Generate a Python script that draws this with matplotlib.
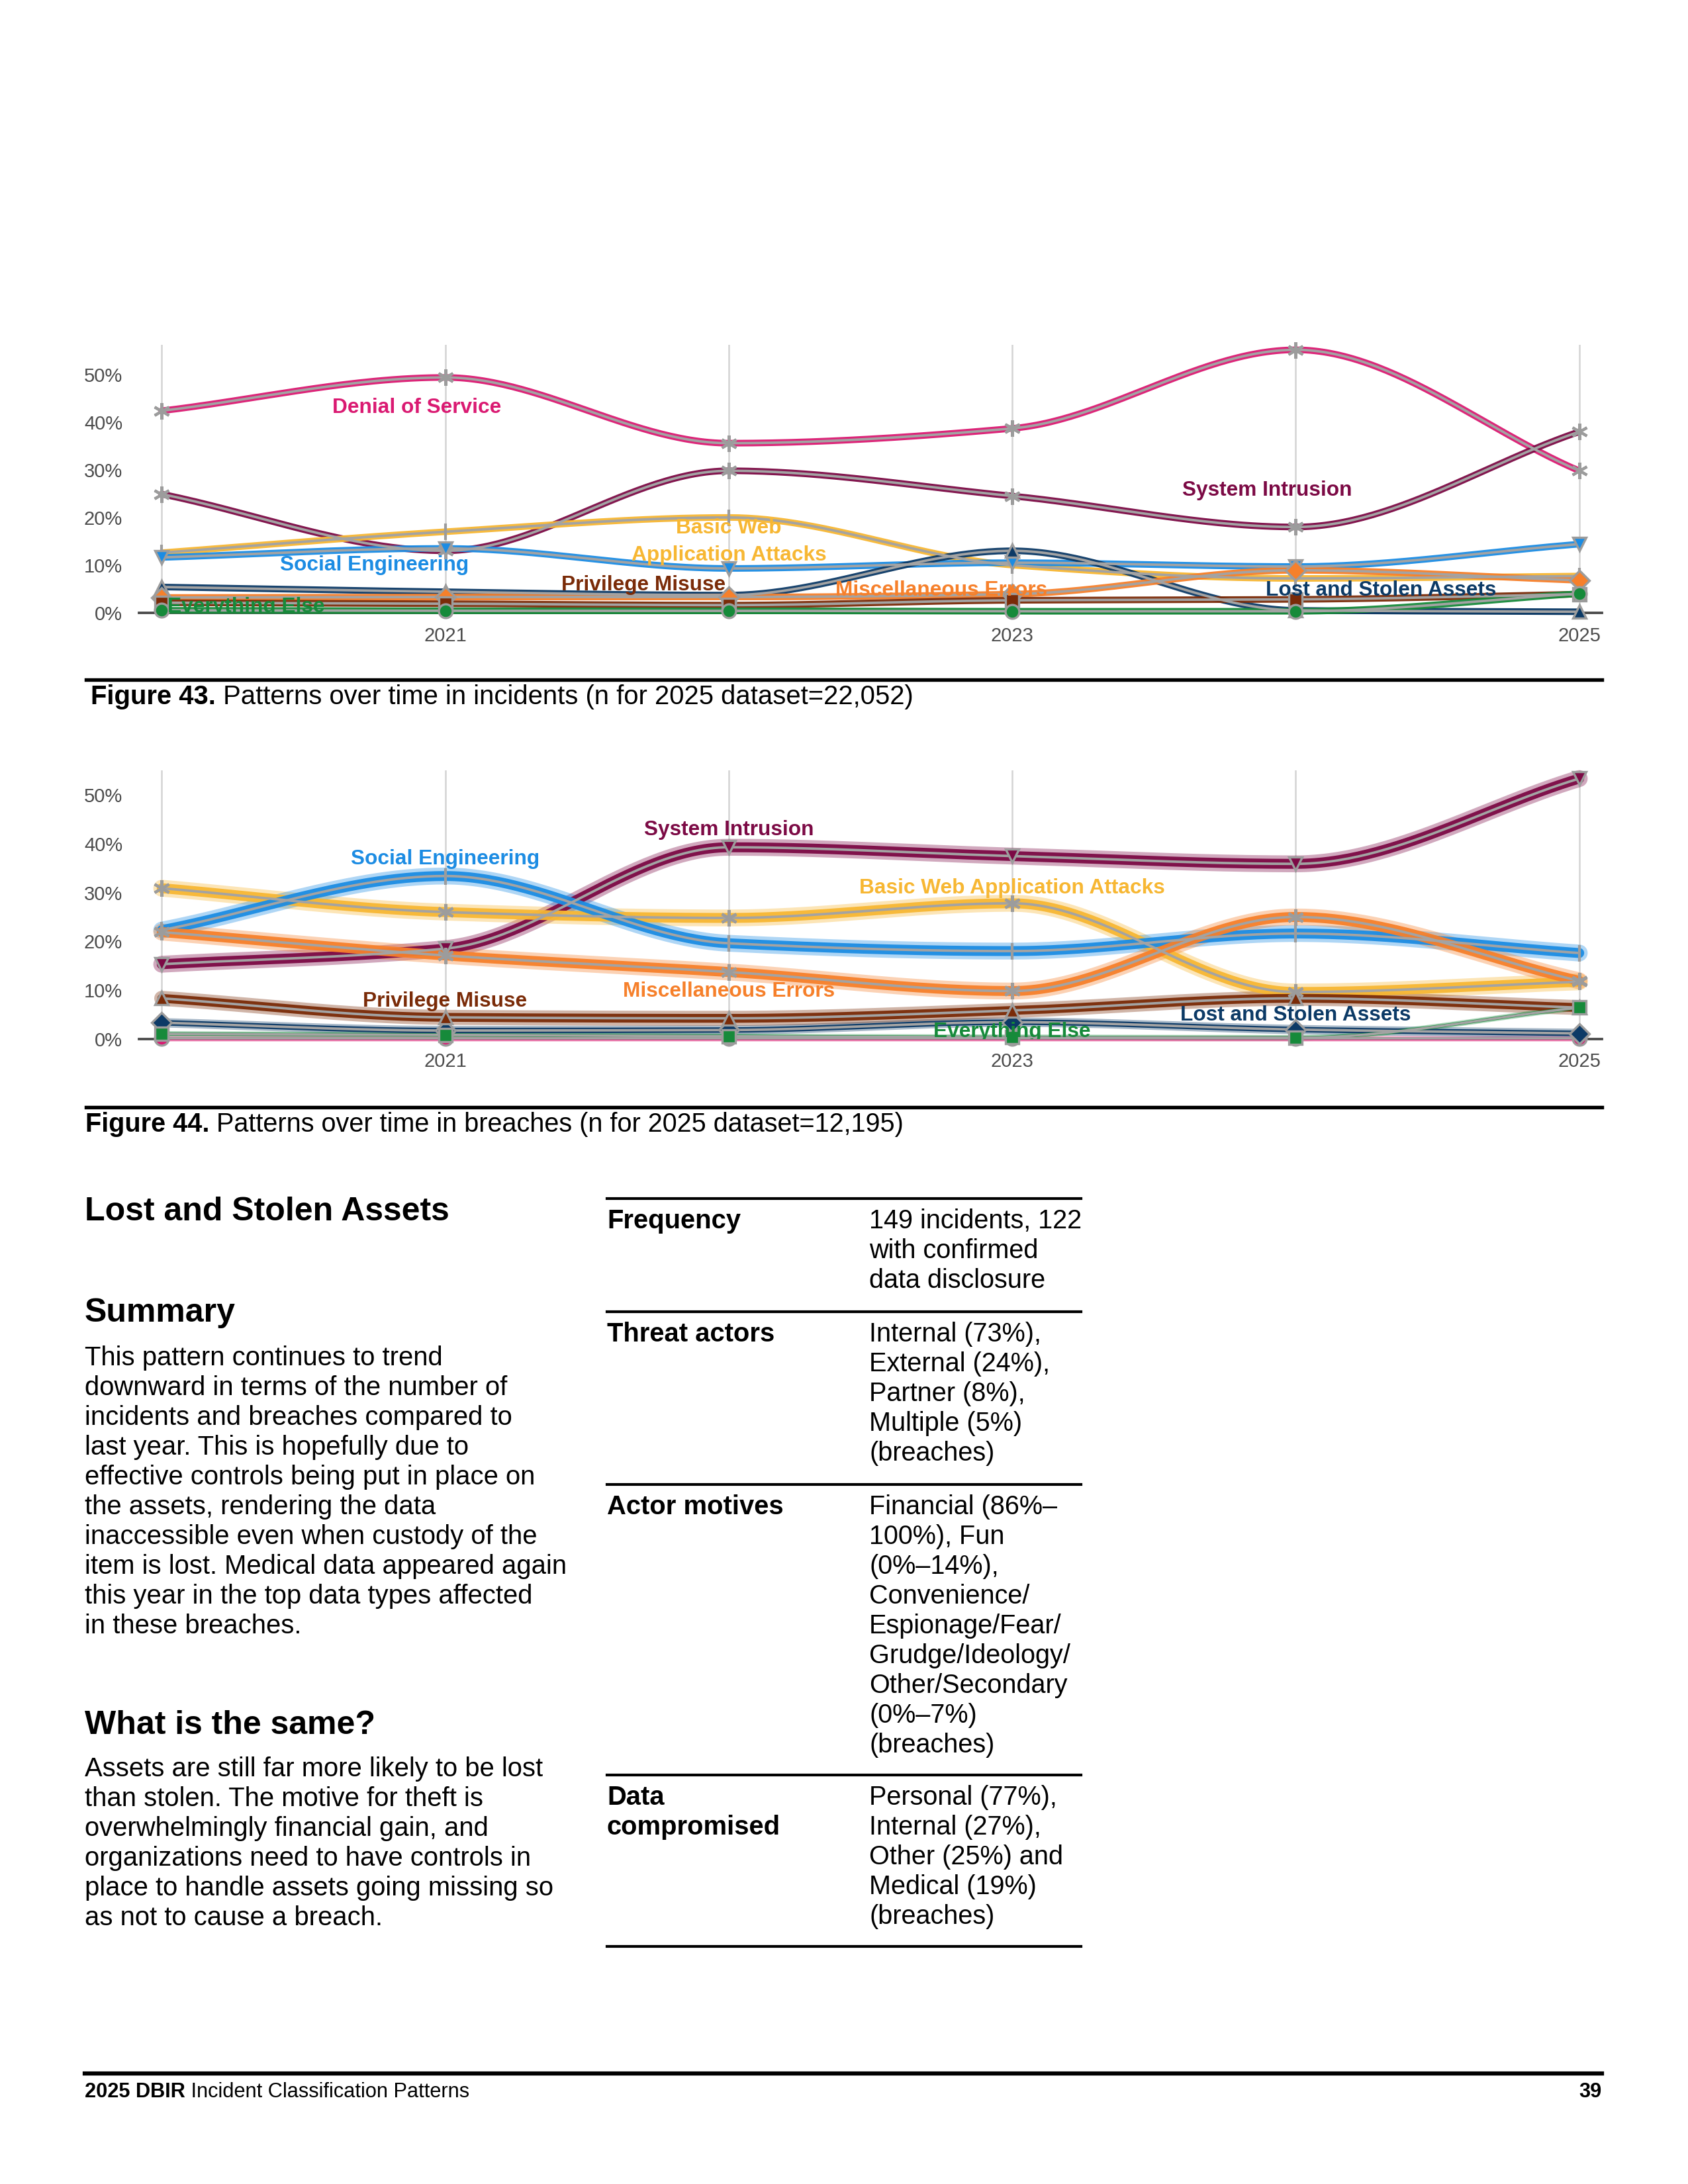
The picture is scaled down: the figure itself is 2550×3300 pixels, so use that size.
import numpy as np
import matplotlib.pyplot as plt

plt.rcParams['font.family'] = ['Liberation Sans', 'DejaVu Sans']

W, H = 2550, 3300

# --------------------------------------------------------------------
# Data (percent of incidents / breaches per pattern)
# --------------------------------------------------------------------
years = [2020, 2021, 2022, 2023, 2024, 2025]
year_ticklabels = ['', '2021', '', '2023', '', '2025']
pct_ticks = [0, 10, 20, 30, 40, 50]
pct_ticklabels = ['0%', '10%', '20%', '30%', '40%', '50%']

patterns = ['Denial of Service', 'System Intrusion', 'Basic Web Application Attacks',
            'Social Engineering', 'Lost and Stolen Assets', 'Miscellaneous Errors',
            'Privilege Misuse', 'Everything Else']

# Figure 43 - incidents
inc_dos = [42.4, 49.4, 35.6, 38.7, 55.2, 29.8]
inc_si = [24.9, 13.0, 29.8, 24.5, 18.0, 38.0]
inc_bwaa = [12.6, 17.0, 20.0, 10.0, 7.2, 7.7]
inc_se = [11.6, 13.5, 9.3, 10.5, 9.7, 14.4]
inc_lsa = [5.4, 4.4, 3.7, 13.0, 0.5, 0.2]
inc_me = [3.2, 3.3, 3.3, 3.9, 8.9, 6.8]
inc_pm = [2.1, 1.9, 1.6, 2.6, 2.8, 3.9]
inc_ee = [0.5, 0.4, 0.4, 0.3, 0.3, 4.0]

# Figure 44 - breaches
br_dos = [0.1, 0.1, 0.1, 0.1, 0.1, 0.1]
br_si = [15.3, 18.5, 39.3, 37.5, 35.9, 53.4]
br_bwaa = [30.9, 26.0, 24.8, 27.8, 9.6, 11.7]
br_se = [22.3, 33.4, 19.6, 18.0, 21.6, 17.6]
br_lsa = [3.3, 1.7, 1.8, 3.4, 1.9, 1.1]
br_me = [21.9, 17.1, 13.7, 9.8, 25.0, 11.9]
br_pm = [8.3, 4.4, 4.2, 5.8, 8.3, 6.4]
br_ee = [1.0, 0.8, 0.5, 0.3, 0.2, 6.4]

colors = {
    'Denial of Service': '#DA1A72',
    'System Intrusion': '#7C0A45',
    'Basic Web Application Attacks': '#F7B733',
    'Social Engineering': '#1C8CE3',
    'Lost and Stolen Assets': '#0C3A66',
    'Miscellaneous Errors': '#F6802B',
    'Privilege Misuse': '#7A2B08',
    'Everything Else': '#168A3A',
}

STAR = (6, 2, 0)
inc_markers = {'Denial of Service': STAR, 'System Intrusion': STAR,
               'Basic Web Application Attacks': '|', 'Social Engineering': 'v',
               'Lost and Stolen Assets': '^', 'Miscellaneous Errors': 'D',
               'Privilege Misuse': 's', 'Everything Else': 'o'}
br_markers = {'Denial of Service': 'o', 'System Intrusion': 'v',
              'Basic Web Application Attacks': STAR, 'Social Engineering': '|',
              'Lost and Stolen Assets': 'D', 'Miscellaneous Errors': STAR,
              'Privilege Misuse': '^', 'Everything Else': 's'}
# band widths in the breach chart (small patterns have narrow bands)
br_band = {'Denial of Service': 1.2, 'System Intrusion': 3.6,
           'Basic Web Application Attacks': 3.6, 'Social Engineering': 3.6,
           'Lost and Stolen Assets': 2.0, 'Miscellaneous Errors': 3.6,
           'Privilege Misuse': 3.2, 'Everything Else': 1.2}
inc_band = {name: 2.4 for name in patterns}

inc_series = dict(zip(patterns, [inc_dos, inc_si, inc_bwaa, inc_se, inc_lsa, inc_me, inc_pm, inc_ee]))
br_series = dict(zip(patterns, [br_dos, br_si, br_bwaa, br_se, br_lsa, br_me, br_pm, br_ee]))

# direct labels: (text, pattern, x year, y pct, ha)
inc_labels = [
    ('Denial of Service', 'Denial of Service', 2020.9, 43.0, 'center'),
    ('System Intrusion', 'System Intrusion', 2023.9, 25.7, 'center'),
    ('Basic Web\nApplication Attacks', 'Basic Web Application Attacks', 2022.0, 14.9, 'center'),
    ('Social Engineering', 'Social Engineering', 2020.75, 10.0, 'center'),
    ('Privilege Misuse', 'Privilege Misuse', 2021.7, 5.8, 'center'),
    ('Miscellaneous Errors', 'Miscellaneous Errors', 2022.75, 4.7, 'center'),
    ('Lost and Stolen Assets', 'Lost and Stolen Assets', 2024.3, 4.7, 'center'),
    ('Everything Else', 'Everything Else', 2020.02, 1.2, 'left'),
]
br_labels = [
    ('System Intrusion', 'System Intrusion', 2022.0, 42.9, 'center'),
    ('Social Engineering', 'Social Engineering', 2021.0, 36.9, 'center'),
    ('Basic Web Application Attacks', 'Basic Web Application Attacks', 2023.0, 30.9, 'center'),
    ('Miscellaneous Errors', 'Miscellaneous Errors', 2022.0, 9.7, 'center'),
    ('Privilege Misuse', 'Privilege Misuse', 2021.0, 7.7, 'center'),
    ('Lost and Stolen Assets', 'Lost and Stolen Assets', 2024.0, 4.9, 'center'),
    ('Everything Else', 'Everything Else', 2023.0, 1.4, 'center'),
]

summary_lines = [
    'This pattern continues to trend',
    'downward in terms of the number of',
    'incidents and breaches compared to',
    'last year. This is hopefully due to',
    'effective controls being put in place on',
    'the assets, rendering the data',
    'inaccessible even when custody of the',
    'item is lost. Medical data appeared again',
    'this year in the top data types affected',
    'in these breaches.',
]
same_lines = [
    'Assets are still far more likely to be lost',
    'than stolen. The motive for theft is',
    'overwhelmingly financial gain, and',
    'organizations need to have controls in',
    'place to handle assets going missing so',
    'as not to cause a breach.',
]
table_keys = [['Frequency'], ['Threat actors'], ['Actor motives'], ['Data', 'compromised']]
table_values = [
    ['149 incidents, 122', 'with confirmed', 'data disclosure'],
    ['Internal (73%),', 'External (24%),', 'Partner (8%),', 'Multiple (5%)', '(breaches)'],
    ['Financial (86%–', '100%), Fun', '(0%–14%),', 'Convenience/', 'Espionage/Fear/',
     'Grudge/Ideology/', 'Other/Secondary', '(0%–7%)', '(breaches)'],
    ['Personal (77%),', 'Internal (27%),', 'Other (25%) and', 'Medical (19%)', '(breaches)'],
]


# --------------------------------------------------------------------
# helpers
# --------------------------------------------------------------------
def fx(px):
    return px / W


def fy(py):
    return 1 - py / H


def smooth(x, y, n=60):
    """monotone cubic (Fritsch-Carlson) curve through the points"""
    x = np.asarray(x, float)
    y = np.asarray(y, float)
    h = np.diff(x)
    d = np.diff(y) / h
    m = np.zeros_like(y)
    m[0], m[-1] = d[0], d[-1]
    for i in range(1, len(y) - 1):
        if d[i - 1] * d[i] <= 0:
            m[i] = 0
        else:
            m[i] = 3 * (h[i - 1] + h[i]) / ((2 * h[i] + h[i - 1]) / d[i - 1] + (h[i] + 2 * h[i - 1]) / d[i])
    xs, ys = [], []
    for i in range(len(h)):
        t = np.linspace(0, 1, n)
        h00 = 2 * t**3 - 3 * t**2 + 1
        h10 = t**3 - 2 * t**2 + t
        h01 = -2 * t**3 + 3 * t**2
        h11 = t**3 - t**2
        xs.append(x[i] + t * h[i])
        ys.append(h00 * y[i] + h10 * h[i] * m[i] + h01 * y[i + 1] + h11 * h[i] * m[i + 1])
    return np.concatenate(xs), np.concatenate(ys)


fig = plt.figure(figsize=(8.5, 11), dpi=300)


def setup_axes(rect, top):
    ax = fig.add_axes(rect)
    ax.set_xlim(2019.92, 2025.08)
    ax.set_ylim(0, top)
    for s in ['top', 'right', 'left']:
        ax.spines[s].set_visible(False)
    ax.spines['bottom'].set_color('#4a4a4a')
    ax.spines['bottom'].set_linewidth(0.9)
    ax.set_xticks(years)
    ax.set_xticklabels(year_ticklabels)
    ax.set_yticks(pct_ticks)
    ax.set_yticklabels(pct_ticklabels)
    ax.tick_params(length=0, labelsize=7, labelcolor='#4d4d4d')
    ax.tick_params(axis='x', pad=5)
    ax.tick_params(axis='y', pad=6)
    ax.grid(axis='x', color='#d4d4d4', linewidth=0.6)
    ax.set_axisbelow(True)
    return ax


def draw_series(ax, series, markers, bands, wide):
    for name in patterns:
        vals = series[name]
        c = colors[name]
        lw = bands[name]
        xs, ys = smooth(years, vals)
        if wide:
            ax.plot(xs, ys, color=c, lw=lw * 1.7, alpha=0.35, solid_capstyle='round', clip_on=False, zorder=2)
        ax.plot(xs, ys, color=c, lw=lw, alpha=0.95, solid_capstyle='round', clip_on=False, zorder=3)
        ax.plot(xs, ys, color='#a3a3a3', lw=0.9, clip_on=False, zorder=4)
        mk = markers[name]
        if mk in (STAR, '|'):
            ax.plot(years, vals, linestyle='none', marker=mk, ms=6, mew=1.0,
                    color='#9c9c9c', clip_on=False, zorder=5)
        else:
            ax.plot(years, vals, linestyle='none', marker=mk, ms=5, mew=0.8,
                    mfc=c, mec='#9c9c9c', clip_on=False, zorder=5)


def draw_labels(ax, labels):
    for txt, name, x, y, ha in labels:
        ax.text(x, y, txt, color=colors[name], fontsize=7.6, fontweight='bold',
                ha=ha, va='center', linespacing=1.45, zorder=6, clip_on=True)


renderer = fig.canvas.get_renderer()


def mixed_text(px, py, bold, rest, size):
    t = fig.text(fx(px), fy(py), bold, fontsize=size, fontweight='bold', va='center', ha='left')
    bb = t.get_window_extent(renderer=renderer)
    fig.text(bb.x1 / fig.bbox.width, fy(py), ' ' + rest, fontsize=size, va='center', ha='left')


def hline(py, x0, x1, lw):
    fig.add_artist(plt.Line2D([fx(x0), fx(x1)], [fy(py), fy(py)], color='black', lw=lw))


# --------------------------------------------------------------------
# Figure 43
# --------------------------------------------------------------------
ax1 = setup_axes([fx(210), fy(925.8), fx(2420) - fx(210), (925.8 - 521.4) / H], 56.2)
draw_series(ax1, inc_series, inc_markers, inc_band, False)
draw_labels(ax1, inc_labels)

hline(1027, 130, 2420, 1.3)
mixed_text(137, 1053, 'Figure 43.', 'Patterns over time in incidents (n for 2025 dataset=22,052)', 9.6)

# --------------------------------------------------------------------
# Figure 44
# --------------------------------------------------------------------
ax2 = setup_axes([fx(210), fy(1569.6), fx(2420) - fx(210), (1569.6 - 1163.5) / H], 55.15)
draw_series(ax2, br_series, br_markers, br_band, True)
draw_labels(ax2, br_labels)

hline(1673, 130, 2420, 1.3)
mixed_text(129, 1699, 'Figure 44.', 'Patterns over time in breaches (n for 2025 dataset=12,195)', 9.5)

# --------------------------------------------------------------------
# Text column
# --------------------------------------------------------------------
fig.text(fx(128), fy(1831), 'Lost and Stolen Assets', fontsize=12, fontweight='bold', va='center')
fig.text(fx(128), fy(1984), 'Summary', fontsize=12, fontweight='bold', va='center')
for i, line in enumerate(summary_lines):
    fig.text(fx(128), fy(2052 + i * 45), line, fontsize=9.6, va='center')
fig.text(fx(128), fy(2607), 'What is the same?', fontsize=12, fontweight='bold', va='center')
for i, line in enumerate(same_lines):
    fig.text(fx(128), fy(2673 + i * 45), line, fontsize=9.6, va='center')

# --------------------------------------------------------------------
# Summary table
# --------------------------------------------------------------------
row_lines = [1811, 1982, 2243, 2682, 2941]
for py in row_lines:
    hline(py, 917, 1633, 1.0)
for r, (keys, vals) in enumerate(zip(table_keys, table_values)):
    top = row_lines[r] + 34
    for i, k in enumerate(keys):
        fig.text(fx(917), fy(top + i * 45), k, fontsize=9.6, fontweight='bold', va='center')
    for i, v in enumerate(vals):
        fig.text(fx(1313), fy(top + i * 45), v, fontsize=9.5, va='center')

# --------------------------------------------------------------------
# Footer
# --------------------------------------------------------------------
hline(3133, 128, 2420, 1.5)
mixed_text(128, 3161, '2025 DBIR', 'Incident Classification Patterns', 7.4)
fig.text(fx(2420), fy(3161), '39', fontsize=7.4, fontweight='bold', va='center', ha='right')

fig.savefig('out.png', dpi=300)
